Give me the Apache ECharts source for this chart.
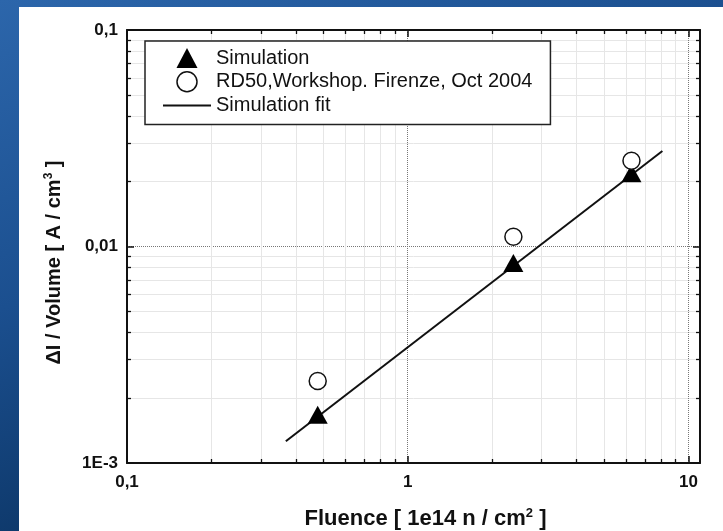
<!DOCTYPE html>
<html><head><meta charset="utf-8">
<script src="https://cdn.jsdelivr.net/npm/echarts@6/dist/echarts.min.js"></script>
<style>html,body{margin:0;padding:0;background:#1a4a8a}#c{width:723px;height:531px}</style>
</head><body><div id="c"></div>
<script>
// ---- data ----
const simX = [0.478, 2.38, 6.27];
const simY = [0.00167, 0.00839, 0.0218];
const rdX = [0.478, 2.38, 6.27];
const rdY = [0.00239, 0.0111, 0.0249];
const fitX = [0.368, 8.08];
const fitY = [0.00126, 0.0276];
const xMajor = [0.1, 1, 10];
const xMajorLabels = ['0,1', '1', '10'];
const xMinor = [0.2, 0.3, 0.4, 0.5, 0.6, 0.7, 0.8, 0.9, 2, 3, 4, 5, 6, 7, 8, 9];
const yMajor = [0.001, 0.01, 0.1];
const yMajorLabels = ['1E-3', '0,01', '0,1'];
const yMinor = [0.002, 0.003, 0.004, 0.005, 0.006, 0.007, 0.008, 0.009, 0.02, 0.03, 0.04, 0.05, 0.06, 0.07, 0.08, 0.09];
const seriesNames = ['Simulation', 'RD50,Workshop. Firenze, Oct 2004', 'Simulation fit'];

const FONT = '"Liberation Sans", Arial, sans-serif';
function lab(list, labels) {
  return function (v) {
    for (let i = 0; i < list.length; i++) {
      if (Math.abs(Math.log10(v / list[i])) < 1e-6) return labels[i];
    }
    return '';
  };
}
const zip = (a, b) => a.map((v, i) => [v, b[i]]);

const X_MIN = 0.1, X_MAX = 11, Y_MIN = 0.001, Y_MAX = 0.1;

function minorX(pos) {
  return {type: 'log', logBase: 10, min: X_MIN, max: X_MAX, position: pos,
    axisLine: {show: false, onZero: false},
    axisTick: {show: true, inside: true, length: 4, customValues: xMinor, lineStyle: {color: '#111', width: 1.3}},
    axisLabel: {show: false},
    splitLine: {show: pos === 'bottom', lineStyle: {color: '#e6e6e6', width: 1, type: 'solid'}},
    minorTick: {show: false}, minorSplitLine: {show: false}};
}
function majorX(pos) {
  const bottom = pos === 'bottom';
  return {type: 'log', logBase: 10, min: X_MIN, max: X_MAX, position: pos,
    axisLine: {show: true, onZero: false, lineStyle: {color: '#111', width: 2}},
    axisTick: {show: true, inside: true, length: 7, customValues: xMajor, lineStyle: {color: '#111', width: 1.5}},
    axisLabel: {show: bottom, customValues: xMajor, formatter: lab(xMajor, xMajorLabels), fontFamily: FONT, fontSize: 17, fontWeight: 'bold', color: '#111', margin: 11},
    splitLine: {show: bottom, lineStyle: {color: '#777', width: 1, type: 'dotted'}},
    name: bottom ? '{a|Fluence [ 1e14 n / cm}{b|2}{a| ]}' : '',
    nameLocation: 'middle', nameGap: 44,
    nameTextStyle: {padding: [0, 0, 0, 24], rich: {
      a: {fontFamily: FONT, fontSize: 22, fontWeight: 'bold', color: '#111', lineHeight: 24},
      b: {fontFamily: FONT, fontSize: 13, fontWeight: 'bold', color: '#111', verticalAlign: 'top', lineHeight: 13}
    }}};
}
function minorY(pos) {
  return {type: 'log', logBase: 10, min: Y_MIN, max: Y_MAX, position: pos,
    axisLine: {show: false, onZero: false},
    axisTick: {show: true, inside: true, length: 4, customValues: yMinor, lineStyle: {color: '#111', width: 1.3}},
    axisLabel: {show: false},
    splitLine: {show: pos === 'left', lineStyle: {color: '#e6e6e6', width: 1, type: 'solid'}},
    minorTick: {show: false}, minorSplitLine: {show: false}};
}
function majorY(pos) {
  const left = pos === 'left';
  return {type: 'log', logBase: 10, min: Y_MIN, max: Y_MAX, position: pos,
    axisLine: {show: true, onZero: false, lineStyle: {color: '#111', width: 2}},
    axisTick: {show: true, inside: true, length: 7, customValues: yMajor, lineStyle: {color: '#111', width: 1.5}},
    axisLabel: {show: left, customValues: yMajor, formatter: lab(yMajor, yMajorLabels), fontFamily: FONT, fontSize: 17, fontWeight: 'bold', color: '#111', margin: 9},
    splitLine: {show: left, lineStyle: {color: '#777', width: 1, type: 'dotted'}},
    name: left ? '{a|ΔI / Volume [ A / cm}{b|3}{a| ]}' : '',
    nameLocation: 'middle', nameGap: 62, nameRotate: 90,
    nameTextStyle: {padding: [0, 32, 0, 0], rich: {
      a: {fontFamily: FONT, fontSize: 20, fontWeight: 'bold', color: '#111', lineHeight: 22},
      b: {fontFamily: FONT, fontSize: 12, fontWeight: 'bold', color: '#111', verticalAlign: 'top', lineHeight: 12}
    }}};
}

const chart = echarts.init(document.getElementById('c'), null, {renderer: 'canvas'});
chart.setOption({
  animation: false,
  backgroundColor: new echarts.graphic.LinearGradient(0, 0, 0.3, 1, [
    {offset: 0, color: '#2c66ab'}, {offset: 0.5, color: '#1b4f8f'}, {offset: 1, color: '#0a3260'}
  ]),
  graphic: [{type: 'rect', z: -10, shape: {x: 19, y: 7, width: 704, height: 524}, style: {fill: '#ffffff'}}],
  grid: {left: 127, top: 30, right: 23, bottom: 68, containLabel: false, outerBoundsMode: 'none'},
  xAxis: [minorX('bottom'), majorX('bottom'), minorX('top'), majorX('top')],
  yAxis: [minorY('left'), majorY('left'), minorY('right'), majorY('right')],
  legend: {
    left: 145, top: 41, orient: 'vertical', selectedMode: false, symbolKeepAspect: true,
    padding: [7, 18, 9, 18], itemWidth: 48, itemHeight: 20, itemGap: 3,
    borderColor: '#222', borderWidth: 1.5, backgroundColor: '#fff',
    textStyle: {fontFamily: FONT, fontSize: 20, color: '#111'},
    data: [
      {name: seriesNames[0], icon: 'path://M10,0L20,19L0,19Z', itemStyle: {color: '#000', opacity: 1}},
      {name: seriesNames[1], icon: 'path://M9,0A9,9,0,1,1,8.99,0Z', itemStyle: {color: '#fff', borderColor: '#111', borderWidth: 1.5, opacity: 1}},
      {name: seriesNames[2], icon: 'path://M0,8L48,8L48,10L0,10Z', itemStyle: {color: '#111', borderWidth: 0, opacity: 1}}
    ]
  },
  series: [
    {name: seriesNames[2], type: 'line', xAxisIndex: 1, yAxisIndex: 1, data: zip(fitX, fitY),
      symbol: 'none', lineStyle: {color: '#111', width: 2}, itemStyle: {color: '#111'}, z: 3},
    {name: seriesNames[0], type: 'scatter', xAxisIndex: 1, yAxisIndex: 1, data: zip(simX, simY),
      symbol: 'triangle', symbolSize: [20, 18], itemStyle: {color: '#000', opacity: 1}, z: 4},
    {name: seriesNames[1], type: 'scatter', xAxisIndex: 1, yAxisIndex: 1, data: zip(rdX, rdY),
      symbol: 'circle', symbolSize: 17, itemStyle: {color: '#fff', borderColor: '#111', borderWidth: 1.5, opacity: 1}, z: 5}
  ]
});
</script>
</body></html>
